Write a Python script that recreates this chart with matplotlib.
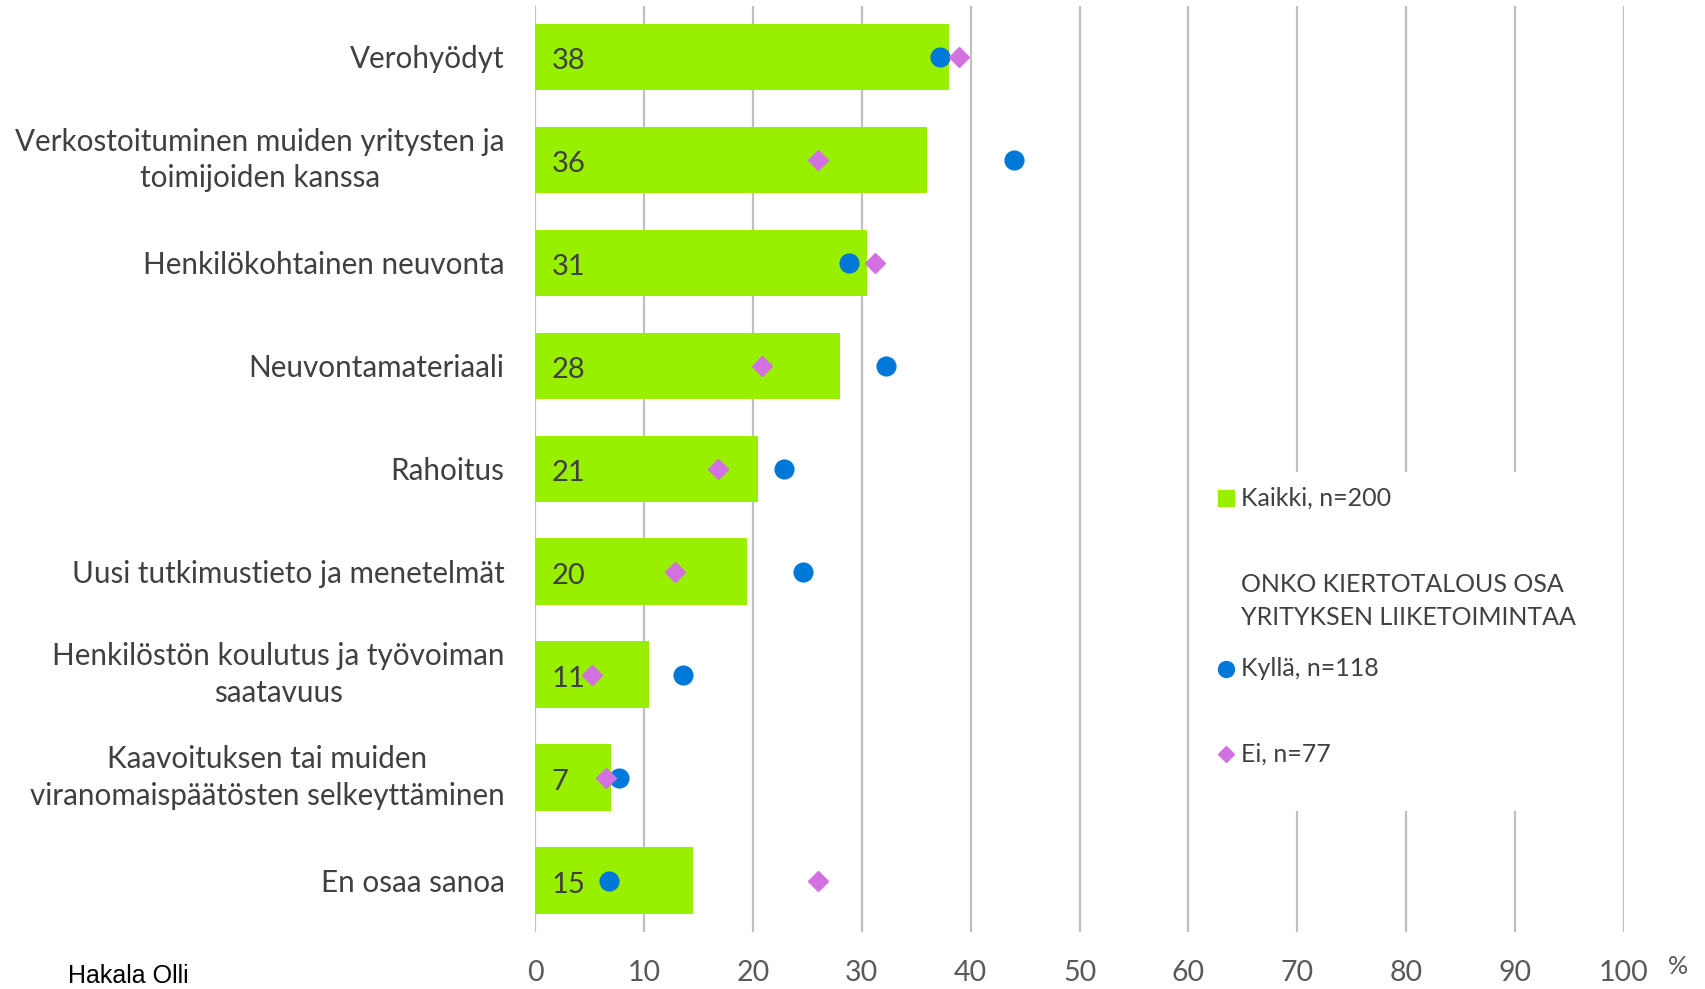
import matplotlib
matplotlib.use("Agg")
import matplotlib.pyplot as plt
from matplotlib.lines import Line2D
from matplotlib.patches import Rectangle

# ---- data ----
categories = [
    "Verohyödyt",
    "Verkostoituminen muiden yritysten ja\ntoimijoiden kanssa",
    "Henkilökohtainen neuvonta",
    "Neuvontamateriaali",
    "Rahoitus",
    "Uusi tutkimustieto ja menetelmät",
    "Henkilöstön koulutus ja työvoiman\nsaatavuus",
    "Kaavoituksen tai muiden\nviranomaispäätösten selkeyttäminen",
    "En osaa sanoa",
]
kaikki = [38.0, 36.0, 30.5, 28.0, 20.5, 19.5, 10.5, 7.0, 14.5]
kaikki_labels = ["38", "36", "31", "28", "21", "20", "11", "7", "15"]
kylla = [37.2, 44.0, 28.8, 32.2, 22.9, 24.6, 13.6, 7.7, 6.8]
ei = [38.9, 26.0, 31.2, 20.8, 16.8, 12.9, 5.2, 6.5, 26.0]
xticks = [0, 10, 20, 30, 40, 50, 60, 70, 80, 90, 100]

legend_kaikki = "Kaikki, n=200"
legend_title = "ONKO KIERTOTALOUS OSA\nYRITYKSEN LIIKETOIMINTAA"
legend_kylla = "Kyllä, n=118"
legend_ei = "Ei, n=77"
author = "Hakala Olli"

# ---- style ----
GREEN = "#99EF00"
BLUE = "#0078D7"
PINK = "#D272E0"
TEXT = "#404040"
GRID = "#BFBFBF"
FONT = "Lato"
plt.rcParams["font.family"] = [FONT, "DejaVu Sans"]

W, H = 1706, 989
fig = plt.figure(figsize=(W / 100, H / 100), dpi=100)
ax = fig.add_axes([535 / W, 1 - 932 / H, (1624 - 535) / W, (932 - 5.5) / H])

y = list(range(len(categories)))
ax.barh(y, kaikki, height=0.645, color=GREEN, zorder=2)
ax.plot(kylla, y, linestyle="none", marker="o", markersize=13.5,
        color=BLUE, zorder=4)
ax.plot(ei, y, linestyle="none", marker="D", markersize=10.2,
        color=PINK, zorder=5)

for yi, lab in zip(y, kaikki_labels):
    ax.annotate(lab, xy=(0, yi), xytext=(12.0, -1.2), textcoords="offset points",
                ha="left", va="center_baseline", fontsize=21, color=TEXT,
                zorder=6)

ax.set_xlim(0, 100)
ax.set_ylim(len(categories) - 0.5, -0.5)
ax.set_xticks(xticks)
ax.set_xticklabels([str(t) for t in xticks])
ax.set_yticks(y)
ax.set_yticklabels(categories)
ax.tick_params(axis="x", length=0, pad=20, labelsize=20.5, labelcolor="#595959")
ax.tick_params(axis="y", length=0, pad=22, labelsize=21.3, labelcolor=TEXT)
for t in ax.get_yticklabels():
    t.set_multialignment("center")
    t.set_linespacing(1.37)
    if "\n" in t.get_text():
        t.set_verticalalignment("center")
for s in ax.spines.values():
    s.set_visible(False)
ax.set_axisbelow(True)
ax.grid(axis="x", color=GRID, linewidth=1.6)
ax.grid(axis="y", visible=False)

# ---- legend (white panel covering gridlines) ----
fig.add_artist(Rectangle((1192 / W, 1 - 811 / H), 420 / W, 339 / H,
                         transform=fig.transFigure, facecolor="white",
                         edgecolor="none", zorder=3))


def fy(py):
    return 1 - py / H


fig.add_artist(Line2D([1226 / W], [fy(498)], marker="s", markersize=11,
                      color=GREEN, linestyle="none", transform=fig.transFigure,
                      zorder=4))
fig.add_artist(Line2D([1226 / W], [fy(669)], marker="o", markersize=11.5,
                      color=BLUE, linestyle="none", transform=fig.transFigure,
                      zorder=4))
fig.add_artist(Line2D([1226 / W], [fy(754)], marker="D", markersize=8,
                      color=PINK, linestyle="none", transform=fig.transFigure,
                      zorder=4))
kw = dict(fontsize=18, color=TEXT, ha="left", va="center", zorder=5)
fig.text(1241 / W, fy(498), legend_kaikki, **kw)
fig.text(1241 / W, fy(601), legend_title, linespacing=1.55, **kw)
fig.text(1241 / W, fy(669), legend_kylla, **kw)
fig.text(1241 / W, fy(754), legend_ei, **kw)

fig.text(1678 / W, fy(967), "%", fontsize=18, color="#595959",
         ha="center", va="center")
fig.text(68 / W, fy(988), author, fontsize=18, color="black",
         family=["Liberation Sans", "DejaVu Sans"], ha="left", va="bottom")

fig.savefig("out.png", dpi=100)
